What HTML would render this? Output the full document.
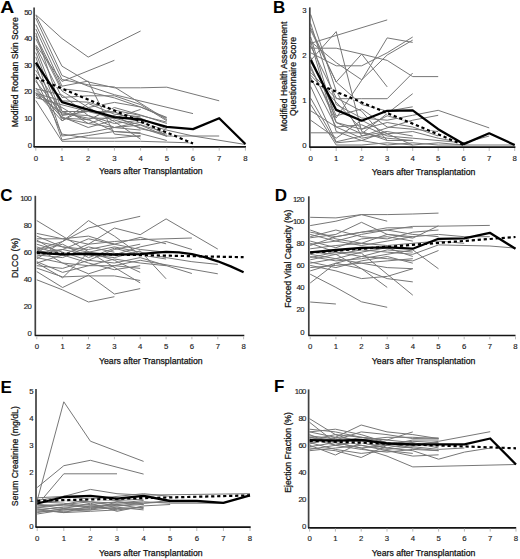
<!DOCTYPE html><html><head><meta charset="utf-8"><style>html,body{margin:0;padding:0;background:#fff;width:520px;height:559px;overflow:hidden}svg{display:block}text{font-family:"Liberation Sans", sans-serif}</style></head><body>
<svg width="520" height="559" viewBox="0 0 520 559">
<rect width="520" height="559" fill="#fff"/>
<g fill="none" stroke="#777" stroke-width="1.0" stroke-linejoin="round"><polyline points="35.8,14.7 62,38.5 88.2,57.1 140.6,31"/><polyline points="35.8,15.3 62,66.2 88.2,81.9 114.4,87.8 140.6,87.8 166.8,87.2 219.2,100.8"/><polyline points="35.8,44.9 62,81.4 114.4,60.3"/><polyline points="35.8,18.2 62,75.5 88.2,86.2 114.4,94.7 193,113.6"/><polyline points="35.8,24.6 62,79.5 88.2,84.8 114.4,87 166.8,119.7"/><polyline points="35.8,28.9 62,86.2 88.2,81.1 114.4,134.1 140.6,136.8"/><polyline points="35.8,35.8 62,88.8 88.2,91.8 114.4,97.9 140.6,107 166.8,117.4"/><polyline points="35.8,38.7 62,91 88.2,107.5 114.4,102.4 140.6,107 166.8,118.2"/><polyline points="35.8,46.2 62,97.4 88.2,95.8 114.4,95.8 140.6,104.6 166.8,120.8"/><polyline points="35.8,47.8 62,115.5 88.2,111.5 114.4,112 140.6,122.7 166.8,130.1 193,136 245.4,144.5"/><polyline points="35.8,56.9 62,136 88.2,132.8 114.4,127.5 140.6,125.1 166.8,136.3"/><polyline points="35.8,64.9 62,140 88.2,135.5 114.4,131.5 140.6,133.6 166.8,140.5"/><polyline points="35.8,70.2 62,111.5 88.2,120 114.4,107.5 140.6,115 166.8,123.5"/><polyline points="35.8,81.4 62,114.2 88.2,115.5 114.4,123.5 140.6,120 166.8,136 219.2,136"/><polyline points="35.8,90.2 62,116.8 88.2,127.5 114.4,120 140.6,127.7 166.8,136.3"/><polyline points="35.8,92.3 62,120.8 88.2,107.5 114.4,121.6 140.6,139.2"/><polyline points="35.8,93.9 62,107.5 88.2,123.5 114.4,127.5 140.6,130.1"/><polyline points="35.8,95 62,112.8 88.2,118.2 114.4,118.2 140.6,124.8 166.8,132.8"/><polyline points="35.8,100.6 62,141.3 88.2,141.3 114.4,141.3 140.6,141.3 166.8,142.1 193,142.9"/><polyline points="35.8,97.6 62,104.8 88.2,111.5 114.4,112 140.6,118.2 166.8,128.8"/><polyline points="35.8,88.8 62,95 88.2,115.5 114.4,127.5 140.6,122.1"/><polyline points="35.8,32.9 62,111.5 88.2,111.5 114.4,118.2 140.6,109.4"/><polyline points="35.8,74.2 62,118.2 88.2,119.5 114.4,131.5 140.6,132.8"/><polyline points="35.8,88 62,117.9 88.2,123.5 114.4,115.5 140.6,128.8 166.8,134.1"/><polyline points="35.8,93.4 62,100.8 88.2,102.2 114.4,110.2 140.6,115.5 166.8,122.1"/><polyline points="35.8,52.6 62,120.8 88.2,103.5 114.4,114.2 140.6,116.8"/><polyline points="35.8,79.5 62,134.1 88.2,138.1 114.4,138.1 140.6,135.5"/></g>
<polyline points="35.8,77.6 193,143.5" fill="none" stroke="#fff" stroke-width="1.3"/>
<polyline points="35.8,77.6 193,143.5" fill="none" stroke="#000" stroke-width="2.2" stroke-dasharray="3.2,2.8"/>
<polyline points="35.8,62.7 62,102.2 88.2,109.6 114.4,117.1 140.6,119.5 166.8,126.9 193,129.1 219.2,118.2 245.4,144" fill="none" stroke="#000" stroke-width="2.3" stroke-linejoin="round"/>
<path d="M34.1 7.5V146.9" fill="none" stroke="#404040" stroke-width="1.7"/>
<path d="M33.6 146.9H246" fill="none" stroke="#151515" stroke-width="1.7"/>
<path d="M35.8 147.7v3M62 147.7v3M88.2 147.7v3M114.4 147.7v3M140.6 147.7v3M166.8 147.7v3M193 147.7v3M219.2 147.7v3M245.4 147.7v3" stroke="#bbb" stroke-width="1"/>
<text x="35.8" y="160.5" font-size="7.8" text-anchor="middle" fill="#222" stroke="#222" stroke-width="0.15">0</text>
<text x="62" y="160.5" font-size="7.8" text-anchor="middle" fill="#222" stroke="#222" stroke-width="0.15">1</text>
<text x="88.2" y="160.5" font-size="7.8" text-anchor="middle" fill="#222" stroke="#222" stroke-width="0.15">2</text>
<text x="114.4" y="160.5" font-size="7.8" text-anchor="middle" fill="#222" stroke="#222" stroke-width="0.15">3</text>
<text x="140.6" y="160.5" font-size="7.8" text-anchor="middle" fill="#222" stroke="#222" stroke-width="0.15">4</text>
<text x="166.8" y="160.5" font-size="7.8" text-anchor="middle" fill="#222" stroke="#222" stroke-width="0.15">5</text>
<text x="193" y="160.5" font-size="7.8" text-anchor="middle" fill="#222" stroke="#222" stroke-width="0.15">6</text>
<text x="219.2" y="160.5" font-size="7.8" text-anchor="middle" fill="#222" stroke="#222" stroke-width="0.15">7</text>
<text x="245.4" y="160.5" font-size="7.8" text-anchor="middle" fill="#222" stroke="#222" stroke-width="0.15">8</text>
<text x="31.5" y="147.7" font-size="7.8" text-anchor="end" fill="#222" stroke="#222" stroke-width="0.15" letter-spacing="-0.7">0</text>
<text x="31.5" y="121.1" font-size="7.8" text-anchor="end" fill="#222" stroke="#222" stroke-width="0.15" letter-spacing="-0.7">10</text>
<text x="31.5" y="94.4" font-size="7.8" text-anchor="end" fill="#222" stroke="#222" stroke-width="0.15" letter-spacing="-0.7">20</text>
<text x="31.5" y="67.8" font-size="7.8" text-anchor="end" fill="#222" stroke="#222" stroke-width="0.15" letter-spacing="-0.7">30</text>
<text x="31.5" y="41.1" font-size="7.8" text-anchor="end" fill="#222" stroke="#222" stroke-width="0.15" letter-spacing="-0.7">40</text>
<text x="31.5" y="14.5" font-size="7.8" text-anchor="end" fill="#222" stroke="#222" stroke-width="0.15" letter-spacing="-0.7">50</text>
<text transform="translate(0.3 13.4) scale(1.14 1)" x="0" y="0" font-size="17" font-weight="bold" fill="#000">A</text>
<text transform="translate(18.3 72.3) rotate(-90)" x="0" y="0" font-size="8.7" text-anchor="middle" fill="#111" stroke="#111" stroke-width="0.25">Modified Rodnan Skin Score</text>
<text x="150.8" y="174.4" font-size="8.7" text-anchor="middle" fill="#111" stroke="#111" stroke-width="0.25">Years after Transplantation</text>
<g fill="none" stroke="#777" stroke-width="1.0" stroke-linejoin="round"><polyline points="310.7,14.5 336.2,91 361.7,136 387.2,131.5"/><polyline points="310.7,43.3 387.2,19.9"/><polyline points="310.7,60.4 336.2,31.6 361.7,131.5 387.2,140.5"/><polyline points="310.7,48.2 336.2,48.2 361.7,54.1 387.2,60.4 412.7,76.6 438.2,76.6"/><polyline points="310.7,28 336.2,82 361.7,54.1 387.2,86.9"/><polyline points="310.7,52.8 336.2,65.8 361.7,65.8 387.2,52.8 412.7,37"/><polyline points="310.7,68.5 336.2,118 361.7,80.2 387.2,37.9 412.7,42.4"/><polyline points="310.7,98.2 336.2,142.8 361.7,140.5 387.2,131.5 412.7,136"/><polyline points="310.7,132.8 336.2,132.8 361.7,132.8 387.2,138.2 412.7,140.5"/><polyline points="310.7,72.5 336.2,98.7 361.7,98.7 387.2,98.7 412.7,73"/><polyline points="310.7,37 336.2,122.5 361.7,133.8 387.2,113.5 412.7,93.7"/><polyline points="310.7,23.5 336.2,104.5 361.7,118 387.2,120.2 412.7,115.3 438.2,110.3 489.2,127.9"/><polyline points="310.7,41.5 336.2,131.5 361.7,140.5 387.2,145 412.7,142.8 438.2,145 463.7,145 514.7,145"/><polyline points="310.7,86.5 336.2,141.8 361.7,136 387.2,127.9 412.7,120.2 438.2,115.3"/><polyline points="310.7,110.8 336.2,127 361.7,124.8 387.2,136 412.7,138.2 463.7,142.8 489.2,136"/><polyline points="310.7,120.2 336.2,138.2 361.7,120.2 387.2,133.8 412.7,131.5 438.2,138.2 463.7,142.8"/><polyline points="310.7,46 336.2,97.8 361.7,111.2 387.2,140.5 412.7,140.5"/><polyline points="310.7,75.2 336.2,102.2 361.7,129.2 387.2,122.5 412.7,127 438.2,136"/><polyline points="310.7,104.5 336.2,145 361.7,145 387.2,142.8 412.7,145 438.2,142.8 463.7,145"/><polyline points="310.7,66.2 336.2,122.5 361.7,129.2 387.2,115.8 412.7,122.5"/><polyline points="310.7,57.2 336.2,115.8 361.7,109 387.2,127 412.7,129.2 438.2,131.5"/><polyline points="310.7,77.5 336.2,127 361.7,138.2 387.2,133.8 412.7,145"/><polyline points="310.7,30.3 336.2,82 361.7,104.5 387.2,111.2 412.7,106.8"/><polyline points="310.7,41.5 336.2,62.6 361.7,79.8 387.2,55 412.7,40.1"/></g>
<polyline points="310.7,81.1 463.7,145" fill="none" stroke="#fff" stroke-width="1.3"/>
<polyline points="310.7,81.1 463.7,145" fill="none" stroke="#000" stroke-width="2.2" stroke-dasharray="3.2,2.8"/>
<polyline points="310.7,60 336.2,109.9 361.7,120.7 387.2,110.8 412.7,110.3 438.2,129.2 463.7,144.1 489.2,133.3 514.7,145" fill="none" stroke="#000" stroke-width="2.3" stroke-linejoin="round"/>
<path d="M309.8 7.4V147.2" fill="none" stroke="#404040" stroke-width="1.7"/>
<path d="M309.3 147.2H515.4" fill="none" stroke="#151515" stroke-width="1.7"/>
<path d="M310.7 148v3M336.2 148v3M361.7 148v3M387.2 148v3M412.7 148v3M438.2 148v3M463.7 148v3M489.2 148v3M514.7 148v3" stroke="#bbb" stroke-width="1"/>
<text x="310.7" y="160.8" font-size="7.8" text-anchor="middle" fill="#222" stroke="#222" stroke-width="0.15">0</text>
<text x="336.2" y="160.8" font-size="7.8" text-anchor="middle" fill="#222" stroke="#222" stroke-width="0.15">1</text>
<text x="361.7" y="160.8" font-size="7.8" text-anchor="middle" fill="#222" stroke="#222" stroke-width="0.15">2</text>
<text x="387.2" y="160.8" font-size="7.8" text-anchor="middle" fill="#222" stroke="#222" stroke-width="0.15">3</text>
<text x="412.7" y="160.8" font-size="7.8" text-anchor="middle" fill="#222" stroke="#222" stroke-width="0.15">4</text>
<text x="438.2" y="160.8" font-size="7.8" text-anchor="middle" fill="#222" stroke="#222" stroke-width="0.15">5</text>
<text x="463.7" y="160.8" font-size="7.8" text-anchor="middle" fill="#222" stroke="#222" stroke-width="0.15">6</text>
<text x="489.2" y="160.8" font-size="7.8" text-anchor="middle" fill="#222" stroke="#222" stroke-width="0.15">7</text>
<text x="514.7" y="160.8" font-size="7.8" text-anchor="middle" fill="#222" stroke="#222" stroke-width="0.15">8</text>
<text x="306" y="147.9" font-size="7.8" text-anchor="end" fill="#222" stroke="#222" stroke-width="0.15" letter-spacing="-0.7">0</text>
<text x="306" y="102.9" font-size="7.8" text-anchor="end" fill="#222" stroke="#222" stroke-width="0.15" letter-spacing="-0.7">1</text>
<text x="306" y="57.9" font-size="7.8" text-anchor="end" fill="#222" stroke="#222" stroke-width="0.15" letter-spacing="-0.7">2</text>
<text x="306" y="12.9" font-size="7.8" text-anchor="end" fill="#222" stroke="#222" stroke-width="0.15" letter-spacing="-0.7">3</text>
<text transform="translate(273 13.4) scale(1.0 1)" x="0" y="0" font-size="17" font-weight="bold" fill="#000">B</text>
<text transform="translate(287.4 76.5) rotate(-90)" x="0" y="0" font-size="8.7" text-anchor="middle" fill="#111" stroke="#111" stroke-width="0.25">Modified Health Assessment</text>
<text transform="translate(295.8 76.5) rotate(-90)" x="0" y="0" font-size="8.7" text-anchor="middle" fill="#111" stroke="#111" stroke-width="0.25">Questionnaire Score</text>
<text x="423.6" y="174.5" font-size="8.7" text-anchor="middle" fill="#111" stroke="#111" stroke-width="0.25">Years after Transplantation</text>
<g fill="none" stroke="#777" stroke-width="1.0" stroke-linejoin="round"><polyline points="36.8,220.6 140.2,282.9"/><polyline points="36.8,279.8 62.6,289.9 88.5,302 114.4,296.7"/><polyline points="36.8,259 62.6,241.5 88.5,220.6 114.4,236.1 140.2,254.9"/><polyline points="36.8,249.5 62.6,241.5 88.5,228 140.2,216.3"/><polyline points="36.8,246.9 62.6,254.9 88.5,244.2 114.4,228 140.2,234.7 166.1,218.9 217.8,249.1"/><polyline points="36.8,238.8 62.6,238.8 88.5,244.2 114.4,241.5 140.2,239.6 191.9,238"/><polyline points="36.8,241.5 62.6,246.9 88.5,249.5 114.4,244.2 140.2,237.4 166.1,243.8"/><polyline points="36.8,252.2 62.6,249.5 88.5,254.9 114.4,257.6 140.2,250.9 166.1,278.8"/><polyline points="36.8,265.7 62.6,268.4 88.5,260.3 114.4,263 140.2,257.6 191.9,273.5"/><polyline points="36.8,257.6 62.6,263 88.5,265.7 114.4,265.7 140.2,260.3 217.8,273.8"/><polyline points="36.8,271.6 62.6,287.5 88.5,275.1 114.4,294 140.2,288.6"/><polyline points="36.8,268.1 62.6,276.9 88.5,275.9 114.4,275.9 140.2,280.5"/><polyline points="36.8,236.1 62.6,246.9 88.5,252.2 114.4,254.9 140.2,246.9 166.1,241.5 191.9,249.5"/><polyline points="36.8,244.2 62.6,252.2 88.5,260.3 114.4,249.5 140.2,244.2"/><polyline points="36.8,254.9 62.6,257.6 88.5,246.9 114.4,252.2"/><polyline points="36.8,263 62.6,254.9 88.5,252.2 114.4,246.9 140.2,252.2 166.1,257.6 191.9,261.7 217.8,264.4"/><polyline points="36.8,233.4 62.6,238.8 88.5,236.1 114.4,244.2"/><polyline points="36.8,248.2 62.6,263 88.5,273.8 114.4,265.7 140.2,268.4"/><polyline points="36.8,261.7 62.6,272.4 88.5,265.7 114.4,259 140.2,263 166.1,265.7"/><polyline points="36.8,263 62.6,277.8 88.5,252.2 114.4,260.3 140.2,272.4"/><polyline points="36.8,250.9 62.6,244.2 88.5,257.6 114.4,248.2 140.2,254.9 166.1,259"/><polyline points="36.8,240.1 62.6,254.9 88.5,263 114.4,269.7 140.2,265.7"/><polyline points="36.8,256.3 62.6,249.5 88.5,238.8 114.4,244.2 140.2,249.5 166.1,252.2"/></g>
<polyline points="36.8,253 243.6,257.2" fill="none" stroke="#fff" stroke-width="1.3"/>
<polyline points="36.8,253 243.6,257.2" fill="none" stroke="#000" stroke-width="2.2" stroke-dasharray="3.2,2.8"/>
<polyline points="36.8,252.2 49.7,253.7 62.6,254.4 75.6,254.1 88.5,253.9 114.4,254.5 140.2,254.1 153.1,252.8 166.1,251.8 179,252.4 191.9,254.1 204.8,257.2 217.8,261.3 230.7,266.4 243.6,272.2" fill="none" stroke="#000" stroke-width="2.3" stroke-linejoin="round"/>
<path d="M35.3 195.8V335.5" fill="none" stroke="#404040" stroke-width="1.7"/>
<path d="M34.8 335.5H244.3" fill="none" stroke="#151515" stroke-width="1.7"/>
<path d="M36.8 336.3v3M62.6 336.3v3M88.5 336.3v3M114.4 336.3v3M140.2 336.3v3M166.1 336.3v3M191.9 336.3v3M217.8 336.3v3M243.6 336.3v3" stroke="#bbb" stroke-width="1"/>
<text x="36.8" y="349.1" font-size="7.8" text-anchor="middle" fill="#222" stroke="#222" stroke-width="0.15">0</text>
<text x="62.6" y="349.1" font-size="7.8" text-anchor="middle" fill="#222" stroke="#222" stroke-width="0.15">1</text>
<text x="88.5" y="349.1" font-size="7.8" text-anchor="middle" fill="#222" stroke="#222" stroke-width="0.15">2</text>
<text x="114.4" y="349.1" font-size="7.8" text-anchor="middle" fill="#222" stroke="#222" stroke-width="0.15">3</text>
<text x="140.2" y="349.1" font-size="7.8" text-anchor="middle" fill="#222" stroke="#222" stroke-width="0.15">4</text>
<text x="166.1" y="349.1" font-size="7.8" text-anchor="middle" fill="#222" stroke="#222" stroke-width="0.15">5</text>
<text x="191.9" y="349.1" font-size="7.8" text-anchor="middle" fill="#222" stroke="#222" stroke-width="0.15">6</text>
<text x="217.8" y="349.1" font-size="7.8" text-anchor="middle" fill="#222" stroke="#222" stroke-width="0.15">7</text>
<text x="243.6" y="349.1" font-size="7.8" text-anchor="middle" fill="#222" stroke="#222" stroke-width="0.15">8</text>
<text x="31.1" y="335.9" font-size="7.8" text-anchor="end" fill="#222" stroke="#222" stroke-width="0.15" letter-spacing="-0.7">0</text>
<text x="31.1" y="309" font-size="7.8" text-anchor="end" fill="#222" stroke="#222" stroke-width="0.15" letter-spacing="-0.7">20</text>
<text x="31.1" y="282.1" font-size="7.8" text-anchor="end" fill="#222" stroke="#222" stroke-width="0.15" letter-spacing="-0.7">40</text>
<text x="31.1" y="255.1" font-size="7.8" text-anchor="end" fill="#222" stroke="#222" stroke-width="0.15" letter-spacing="-0.7">60</text>
<text x="31.1" y="228.2" font-size="7.8" text-anchor="end" fill="#222" stroke="#222" stroke-width="0.15" letter-spacing="-0.7">80</text>
<text x="31.1" y="201.3" font-size="7.8" text-anchor="end" fill="#222" stroke="#222" stroke-width="0.15" letter-spacing="-0.7">100</text>
<text transform="translate(0.3 201.4) scale(1.0 1)" x="0" y="0" font-size="17" font-weight="bold" fill="#000">C</text>
<text transform="translate(18.2 258) rotate(-90)" x="0" y="0" font-size="8.7" text-anchor="middle" fill="#111" stroke="#111" stroke-width="0.25">DLCO (%)</text>
<text x="150.8" y="363.6" font-size="8.7" text-anchor="middle" fill="#111" stroke="#111" stroke-width="0.25">Years after Transplantation</text>
<g fill="none" stroke="#777" stroke-width="1.0" stroke-linejoin="round"><polyline points="310.2,302 335.9,304"/><polyline points="310.2,217.3 335.9,217.9 361.5,214.6 387.2,221.2"/><polyline points="310.2,225.6 335.9,221.2 361.5,214.6 387.2,214.6 412.8,214 438.5,213.1"/><polyline points="310.2,274.2 335.9,287.4 361.5,301.8 387.2,307.3"/><polyline points="310.2,243.3 335.9,252.1 361.5,253.2 387.2,274.2 412.8,295.2"/><polyline points="310.2,237.8 335.9,234.4 361.5,222.3 387.2,234.4 412.8,238.1 438.5,225.8"/><polyline points="310.2,232.2 335.9,236.7 361.5,232.2 387.2,230 412.8,226.4 438.5,226.2 489.8,225.4"/><polyline points="310.2,259.8 335.9,254.3 361.5,249.9 387.2,252.1 412.8,254.3 438.5,244.9 489.8,246 515.5,248.1"/><polyline points="310.2,270.9 335.9,263.2 361.5,256.5 387.2,258.7 412.8,260.9 438.5,250.5"/><polyline points="310.2,283 335.9,263.2 361.5,268.7 387.2,287.4"/><polyline points="310.2,252.1 335.9,254.3 361.5,268.7 387.2,278.6 412.8,281.9"/><polyline points="310.2,234.4 335.9,241.1 361.5,245.5 387.2,241.1 412.8,236.7 438.5,234.4 464.2,236.7 489.8,236.7"/><polyline points="310.2,256.5 335.9,260.9 361.5,258.7 387.2,254.3 412.8,249.9 438.5,268.8"/><polyline points="310.2,263.2 335.9,258.7 361.5,252.1 387.2,247.7 412.8,256.5"/><polyline points="310.2,245.5 335.9,236.7 361.5,232.2 387.2,227.8 412.8,227.8"/><polyline points="310.2,267.6 335.9,265.4 361.5,263.2 387.2,267.6 412.8,268.7"/><polyline points="310.2,265.4 335.9,270.9 361.5,278.6 387.2,276.4 412.8,268.7"/><polyline points="310.2,248.8 335.9,245.5 361.5,243.3 387.2,245.5 412.8,243.3 438.5,241.1 464.2,243.3"/><polyline points="310.2,241.1 335.9,247.7 361.5,238.9 387.2,236.7 412.8,241.1"/><polyline points="310.2,254.3 335.9,258.7 361.5,263.2 387.2,260.9 412.8,258.7"/><polyline points="310.2,257.6 335.9,252.1 361.5,256.5 387.2,249.9 412.8,252.1"/><polyline points="310.2,262 335.9,267.6 361.5,260.9 387.2,256.5 412.8,263.2"/><polyline points="310.2,236.7 335.9,230 361.5,236.7 387.2,238.9 412.8,232.2 438.5,230"/><polyline points="310.2,230 335.9,238.9 361.5,243.3 387.2,234.4 412.8,236.7"/><polyline points="310.2,244.4 335.9,241.1 361.5,234.4 387.2,230 412.8,234.4 438.5,236.7"/></g>
<polyline points="310.2,252.7 515.5,237" fill="none" stroke="#fff" stroke-width="1.3"/>
<polyline points="310.2,252.7 515.5,237" fill="none" stroke="#000" stroke-width="2.2" stroke-dasharray="3.2,2.8"/>
<polyline points="310.2,252.3 335.9,250 361.5,247.8 387.2,247.3 412.8,248.7 438.5,238.8 464.2,238.3 489.8,232.8 515.5,248.7" fill="none" stroke="#000" stroke-width="2.3" stroke-linejoin="round"/>
<path d="M308.8 196.3V335.5" fill="none" stroke="#404040" stroke-width="1.7"/>
<path d="M308.3 335.5H515.5" fill="none" stroke="#151515" stroke-width="1.7"/>
<path d="M310.2 336.3v3M335.9 336.3v3M361.5 336.3v3M387.2 336.3v3M412.8 336.3v3M438.5 336.3v3M464.2 336.3v3M489.8 336.3v3M515.5 336.3v3" stroke="#bbb" stroke-width="1"/>
<text x="310.2" y="349.1" font-size="7.8" text-anchor="middle" fill="#222" stroke="#222" stroke-width="0.15">0</text>
<text x="335.9" y="349.1" font-size="7.8" text-anchor="middle" fill="#222" stroke="#222" stroke-width="0.15">1</text>
<text x="361.5" y="349.1" font-size="7.8" text-anchor="middle" fill="#222" stroke="#222" stroke-width="0.15">2</text>
<text x="387.2" y="349.1" font-size="7.8" text-anchor="middle" fill="#222" stroke="#222" stroke-width="0.15">3</text>
<text x="412.8" y="349.1" font-size="7.8" text-anchor="middle" fill="#222" stroke="#222" stroke-width="0.15">4</text>
<text x="438.5" y="349.1" font-size="7.8" text-anchor="middle" fill="#222" stroke="#222" stroke-width="0.15">5</text>
<text x="464.2" y="349.1" font-size="7.8" text-anchor="middle" fill="#222" stroke="#222" stroke-width="0.15">6</text>
<text x="489.8" y="349.1" font-size="7.8" text-anchor="middle" fill="#222" stroke="#222" stroke-width="0.15">7</text>
<text x="515.5" y="349.1" font-size="7.8" text-anchor="middle" fill="#222" stroke="#222" stroke-width="0.15">8</text>
<text x="303.8" y="334.5" font-size="7.8" text-anchor="end" fill="#222" stroke="#222" stroke-width="0.15" letter-spacing="-0.7">0</text>
<text x="303.8" y="312.4" font-size="7.8" text-anchor="end" fill="#222" stroke="#222" stroke-width="0.15" letter-spacing="-0.7">20</text>
<text x="303.8" y="290.3" font-size="7.8" text-anchor="end" fill="#222" stroke="#222" stroke-width="0.15" letter-spacing="-0.7">40</text>
<text x="303.8" y="268.3" font-size="7.8" text-anchor="end" fill="#222" stroke="#222" stroke-width="0.15" letter-spacing="-0.7">60</text>
<text x="303.8" y="246.2" font-size="7.8" text-anchor="end" fill="#222" stroke="#222" stroke-width="0.15" letter-spacing="-0.7">80</text>
<text x="303.8" y="224.1" font-size="7.8" text-anchor="end" fill="#222" stroke="#222" stroke-width="0.15" letter-spacing="-0.7">100</text>
<text x="303.8" y="202" font-size="7.8" text-anchor="end" fill="#222" stroke="#222" stroke-width="0.15" letter-spacing="-0.7">120</text>
<text transform="translate(274.8 201.4) scale(1.0 1)" x="0" y="0" font-size="17" font-weight="bold" fill="#000">D</text>
<text transform="translate(291 258.7) rotate(-90)" x="0" y="0" font-size="8.7" text-anchor="middle" fill="#111" stroke="#111" stroke-width="0.25">Forced Vital Capacity (%)</text>
<text x="423.6" y="363.6" font-size="8.7" text-anchor="middle" fill="#111" stroke="#111" stroke-width="0.25">Years after Transplantation</text>
<g fill="none" stroke="#777" stroke-width="1.0" stroke-linejoin="round"><polyline points="37.2,487.5 63.8,465.7 90.4,460.3 143.6,474.1"/><polyline points="37.2,500.5 63.8,401.8 90.4,441.2 143.6,461.4"/><polyline points="37.2,505.1 63.8,473.8 117,473.8"/><polyline points="37.2,497.8 63.8,496.4 90.4,489.4 117,493.7 143.6,495.1 250,493.7"/><polyline points="37.2,504.5 63.8,505.9 90.4,504.5 117,501.8 143.6,503.2 170.2,501.8"/><polyline points="37.2,507.2 63.8,509.9 90.4,507.2 117,508.6 143.6,507.2"/><polyline points="37.2,509.9 63.8,507.2 90.4,505.9 117,504.5 143.6,501.8 170.2,503.2 223.4,503.2"/><polyline points="37.2,511.3 63.8,511.3 90.4,509.9 117,507.2 143.6,509.9"/><polyline points="37.2,512.6 63.8,508.6 90.4,503.2 117,511.3 143.6,505.9 170.2,504.5"/><polyline points="37.2,505.9 63.8,504.5 90.4,499.1 117,500.5 143.6,499.1"/><polyline points="37.2,500.5 63.8,496.4 90.4,499.1 117,496.4 143.6,493.7 170.2,496.4"/><polyline points="37.2,508.6 63.8,512.6 90.4,511.3 117,509.9"/><polyline points="37.2,503.2 63.8,500.5 90.4,501.8 117,503.2 143.6,500.5"/><polyline points="37.2,514 63.8,509.9 90.4,508.6 117,505.9 143.6,504.5"/><polyline points="37.2,501.8 63.8,503.2 90.4,507.2 117,504.5 143.6,508.6"/><polyline points="37.2,507.2 63.8,504.5 90.4,501.8 117,505.9 143.6,503.2 170.2,500.5"/><polyline points="37.2,509.9 63.8,512.6 90.4,505.9 117,509.9 143.6,507.2"/><polyline points="37.2,504.5 63.8,508.6 90.4,509.9 117,501.8 143.6,504.5"/></g>
<polyline points="37.2,500.8 250,495.4" fill="none" stroke="#fff" stroke-width="1.3"/>
<polyline points="37.2,500.8 250,495.4" fill="none" stroke="#000" stroke-width="2.2" stroke-dasharray="3.2,2.8"/>
<polyline points="37.2,503.5 63.8,497 90.4,495.9 117,498.6 143.6,495.9 170.2,501 196.8,501 223.4,502.9 250,495.4" fill="none" stroke="#000" stroke-width="2.3" stroke-linejoin="round"/>
<path d="M36 389V527.2" fill="none" stroke="#404040" stroke-width="1.7"/>
<path d="M35.5 527.2H250.7" fill="none" stroke="#151515" stroke-width="1.7"/>
<path d="M37.2 528v3M63.8 528v3M90.4 528v3M117 528v3M143.6 528v3M170.2 528v3M196.8 528v3M223.4 528v3M250 528v3" stroke="#bbb" stroke-width="1"/>
<text x="37.2" y="540.8" font-size="7.8" text-anchor="middle" fill="#222" stroke="#222" stroke-width="0.15">0</text>
<text x="63.8" y="540.8" font-size="7.8" text-anchor="middle" fill="#222" stroke="#222" stroke-width="0.15">1</text>
<text x="90.4" y="540.8" font-size="7.8" text-anchor="middle" fill="#222" stroke="#222" stroke-width="0.15">2</text>
<text x="117" y="540.8" font-size="7.8" text-anchor="middle" fill="#222" stroke="#222" stroke-width="0.15">3</text>
<text x="143.6" y="540.8" font-size="7.8" text-anchor="middle" fill="#222" stroke="#222" stroke-width="0.15">4</text>
<text x="170.2" y="540.8" font-size="7.8" text-anchor="middle" fill="#222" stroke="#222" stroke-width="0.15">5</text>
<text x="196.8" y="540.8" font-size="7.8" text-anchor="middle" fill="#222" stroke="#222" stroke-width="0.15">6</text>
<text x="223.4" y="540.8" font-size="7.8" text-anchor="middle" fill="#222" stroke="#222" stroke-width="0.15">7</text>
<text x="250" y="540.8" font-size="7.8" text-anchor="middle" fill="#222" stroke="#222" stroke-width="0.15">8</text>
<text x="33" y="529" font-size="7.8" text-anchor="end" fill="#222" stroke="#222" stroke-width="0.15" letter-spacing="-0.7">0</text>
<text x="33" y="502" font-size="7.8" text-anchor="end" fill="#222" stroke="#222" stroke-width="0.15" letter-spacing="-0.7">1</text>
<text x="33" y="475.1" font-size="7.8" text-anchor="end" fill="#222" stroke="#222" stroke-width="0.15" letter-spacing="-0.7">2</text>
<text x="33" y="448.1" font-size="7.8" text-anchor="end" fill="#222" stroke="#222" stroke-width="0.15" letter-spacing="-0.7">3</text>
<text x="33" y="421.2" font-size="7.8" text-anchor="end" fill="#222" stroke="#222" stroke-width="0.15" letter-spacing="-0.7">4</text>
<text x="33" y="394.2" font-size="7.8" text-anchor="end" fill="#222" stroke="#222" stroke-width="0.15" letter-spacing="-0.7">5</text>
<text transform="translate(0.5 392.8) scale(1.0 1)" x="0" y="0" font-size="17" font-weight="bold" fill="#000">E</text>
<text transform="translate(18.3 456.2) rotate(-90)" x="0" y="0" font-size="8.7" text-anchor="middle" fill="#111" stroke="#111" stroke-width="0.25">Serum Creatinine (mg/dL)</text>
<text x="150.8" y="556" font-size="8.7" text-anchor="middle" fill="#111" stroke="#111" stroke-width="0.25">Years after Transplantation</text>
<g fill="none" stroke="#777" stroke-width="1.0" stroke-linejoin="round"><polyline points="309.6,418.7 335.4,434.6 361.2,442.6 387,445.3"/><polyline points="309.6,422.3 335.4,442.6 361.2,448 387,445.3 412.8,440 438.6,440"/><polyline points="309.6,431.9 335.4,437.3 361.2,425 387,431.9 412.8,434.6 438.6,438.6"/><polyline points="309.6,445.3 335.4,455 361.2,442.6 387,448 412.8,442.6"/><polyline points="309.6,437.3 335.4,442.6 361.2,448 387,456.1 412.8,466.9 516,464.5"/><polyline points="309.6,440 335.4,434.6 361.2,437.3 387,440 412.8,431.9"/><polyline points="309.6,448 335.4,450.7 361.2,457.5 387,445.3 412.8,448 438.6,450.7"/><polyline points="309.6,442.6 335.4,440 361.2,442.6 387,448 412.8,450.7 438.6,459.2 464.4,452.1 490.2,448"/><polyline points="309.6,434.6 335.4,445.3 361.2,440 387,442.6 412.8,445.3 438.6,441.3 490.2,431.7"/><polyline points="309.6,450.7 335.4,448 361.2,445.3 387,450.7 412.8,453.4"/><polyline points="309.6,429.2 335.4,431.9 361.2,437.3 387,440 412.8,442.6 438.6,448"/><polyline points="309.6,437.3 335.4,440 361.2,431.9 387,434.6 412.8,438.6 438.6,437.9"/><polyline points="309.6,444 335.4,437.3 361.2,440 387,437.3 412.8,437.3 438.6,438.6"/><polyline points="309.6,449.4 335.4,445.3 361.2,449.4 387,452.1 412.8,449.4 438.6,450.7"/><polyline points="309.6,431.9 335.4,429.2 361.2,434.6 387,442.6 412.8,448"/><polyline points="309.6,438.6 335.4,445.3 361.2,441.3 387,444 412.8,441.3 438.6,442.6"/><polyline points="309.6,446.7 335.4,442.6 361.2,437.3 387,442.6 412.8,445.3 438.6,444"/><polyline points="309.6,435.9 335.4,438.6 361.2,445.3 387,449.4 412.8,446.7 438.6,449.4 464.4,448"/><polyline points="309.6,442.6 335.4,449.4 361.2,453.4 387,450.7 412.8,456.1 438.6,454.8"/></g>
<polyline points="309.6,440.8 516,448.3" fill="none" stroke="#fff" stroke-width="1.3"/>
<polyline points="309.6,440.8 516,448.3" fill="none" stroke="#000" stroke-width="2.2" stroke-dasharray="3.2,2.8"/>
<polyline points="309.6,440.2 335.4,440.6 361.2,439.8 387,443.5 412.8,444.4 438.6,444.4 464.4,444.4 490.2,438.5 516,464.5" fill="none" stroke="#000" stroke-width="2.3" stroke-linejoin="round"/>
<path d="M308.6 389.4V527.8" fill="none" stroke="#404040" stroke-width="1.7"/>
<path d="M308.1 527.8H516.2" fill="none" stroke="#151515" stroke-width="1.7"/>
<path d="M309.6 528.6v3M335.4 528.6v3M361.2 528.6v3M387 528.6v3M412.8 528.6v3M438.6 528.6v3M464.4 528.6v3M490.2 528.6v3M516 528.6v3" stroke="#bbb" stroke-width="1"/>
<text x="309.6" y="541.4" font-size="7.8" text-anchor="middle" fill="#222" stroke="#222" stroke-width="0.15">0</text>
<text x="335.4" y="541.4" font-size="7.8" text-anchor="middle" fill="#222" stroke="#222" stroke-width="0.15">1</text>
<text x="361.2" y="541.4" font-size="7.8" text-anchor="middle" fill="#222" stroke="#222" stroke-width="0.15">2</text>
<text x="387" y="541.4" font-size="7.8" text-anchor="middle" fill="#222" stroke="#222" stroke-width="0.15">3</text>
<text x="412.8" y="541.4" font-size="7.8" text-anchor="middle" fill="#222" stroke="#222" stroke-width="0.15">4</text>
<text x="438.6" y="541.4" font-size="7.8" text-anchor="middle" fill="#222" stroke="#222" stroke-width="0.15">5</text>
<text x="464.4" y="541.4" font-size="7.8" text-anchor="middle" fill="#222" stroke="#222" stroke-width="0.15">6</text>
<text x="490.2" y="541.4" font-size="7.8" text-anchor="middle" fill="#222" stroke="#222" stroke-width="0.15">7</text>
<text x="516" y="541.4" font-size="7.8" text-anchor="middle" fill="#222" stroke="#222" stroke-width="0.15">8</text>
<text x="305.7" y="529" font-size="7.8" text-anchor="end" fill="#222" stroke="#222" stroke-width="0.15" letter-spacing="-0.7">0</text>
<text x="305.7" y="502.1" font-size="7.8" text-anchor="end" fill="#222" stroke="#222" stroke-width="0.15" letter-spacing="-0.7">20</text>
<text x="305.7" y="475.2" font-size="7.8" text-anchor="end" fill="#222" stroke="#222" stroke-width="0.15" letter-spacing="-0.7">40</text>
<text x="305.7" y="448.2" font-size="7.8" text-anchor="end" fill="#222" stroke="#222" stroke-width="0.15" letter-spacing="-0.7">60</text>
<text x="305.7" y="421.3" font-size="7.8" text-anchor="end" fill="#222" stroke="#222" stroke-width="0.15" letter-spacing="-0.7">80</text>
<text x="305.7" y="394.4" font-size="7.8" text-anchor="end" fill="#222" stroke="#222" stroke-width="0.15" letter-spacing="-0.7">100</text>
<text transform="translate(274 392.1) scale(1.0 1)" x="0" y="0" font-size="17" font-weight="bold" fill="#000">F</text>
<text transform="translate(291.1 452.4) rotate(-90)" x="0" y="0" font-size="8.7" text-anchor="middle" fill="#111" stroke="#111" stroke-width="0.25">Ejection Fraction (%)</text>
<text x="423.6" y="556" font-size="8.7" text-anchor="middle" fill="#111" stroke="#111" stroke-width="0.25">Years after Transplantation</text>
</svg></body></html>
